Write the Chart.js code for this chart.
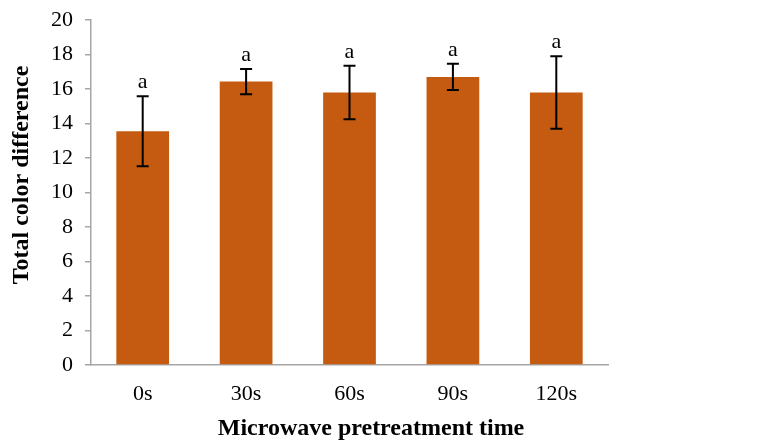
<!DOCTYPE html>
<html>
<head>
<meta charset="utf-8">
<script src="https://cdn.jsdelivr.net/npm/chart.js@4"></script>
<style>
  body { margin: 0; background: #fff; }
  canvas { display: block; }
</style>
</head>
<body>
<canvas id="chart" width="760" height="443"></canvas>
<script>
const labels = ["0s", "30s", "60s", "90s", "120s"];
const colorDiff = [13.55, 16.43, 15.8, 16.7, 15.8];
const errors = [2.03, 0.73, 1.55, 0.76, 2.1];
const letters = ["a", "a", "a", "a", "a"];
const yTicks = [0, 2, 4, 6, 8, 10, 12, 14, 16, 18, 20];
const xTitle = "Microwave pretreatment time";
const yTitle = "Total color difference";

const serif = "'Liberation Serif', 'Times New Roman', serif";

// error bars, letters and the two axis titles
const errorBarPlugin = {
  id: "errorBars",
  afterDatasetsDraw(chart) {
    const ctx = chart.ctx;
    const meta = chart.getDatasetMeta(0);
    const y = chart.scales.y;
    ctx.save();
    ctx.strokeStyle = "#000";
    ctx.lineWidth = 2;
    ctx.fillStyle = "#000";
    ctx.font = "22px " + serif;
    ctx.textAlign = "center";
    ctx.textBaseline = "alphabetic";
    meta.data.forEach((bar, i) => {
      const top = y.getPixelForValue(colorDiff[i] + errors[i]);
      const bottom = y.getPixelForValue(colorDiff[i] - errors[i]);
      const x = bar.x;
      ctx.beginPath();
      ctx.moveTo(x, top);
      ctx.lineTo(x, bottom);
      ctx.moveTo(x - 6, top);
      ctx.lineTo(x + 6, top);
      ctx.moveTo(x - 6, bottom);
      ctx.lineTo(x + 6, bottom);
      ctx.stroke();
      ctx.fillText(letters[i], x, top - 8);
    });

    ctx.font = "bold 24px " + serif;
    ctx.textBaseline = "middle";
    ctx.fillText(xTitle, 371, 429);
    ctx.translate(22, 175);
    ctx.rotate(-Math.PI / 2);
    ctx.fillText(yTitle, 0, 0);
    ctx.restore();
  }
};

new Chart(document.getElementById("chart"), {
  type: "bar",
  data: {
    labels: labels,
    datasets: [{
      data: colorDiff,
      backgroundColor: "#C55A11",
      borderWidth: 0,
      barPercentage: 0.51,
      categoryPercentage: 1
    }]
  },
  options: {
    responsive: false,
    animation: false,
    layout: { padding: { top: 20, right: 152, left: 10, bottom: 0 } },
    plugins: {
      legend: { display: false },
      tooltip: { enabled: false }
    },
    scales: {
      x: {
        afterFit(scale) {
          scale.height = 78;
        },
        grid: { display: false, drawTicks: false },
        border: { color: "#A6A6A6", width: 1.5 },
        ticks: {
          color: "#000",
          font: { family: serif, size: 22 },
          padding: 16
        }
      },
      y: {
        min: 0,
        max: 20,
        afterBuildTicks(scale) {
          scale.ticks = yTicks.map(v => ({ value: v }));
        },
        afterFit(scale) {
          scale.width = 81;
          scale.paddingTop = 0;
          scale.paddingBottom = 0;
        },
        grid: {
          drawOnChartArea: false,
          drawTicks: true,
          tickLength: 6,
          color: "#A6A6A6",
          lineWidth: 1.5
        },
        border: { color: "#A6A6A6", width: 1.5 },
        ticks: {
          color: "#000",
          font: { family: serif, size: 22 },
          padding: 12
        }
      }
    }
  },
  plugins: [errorBarPlugin]
});
</script>
</body>
</html>
